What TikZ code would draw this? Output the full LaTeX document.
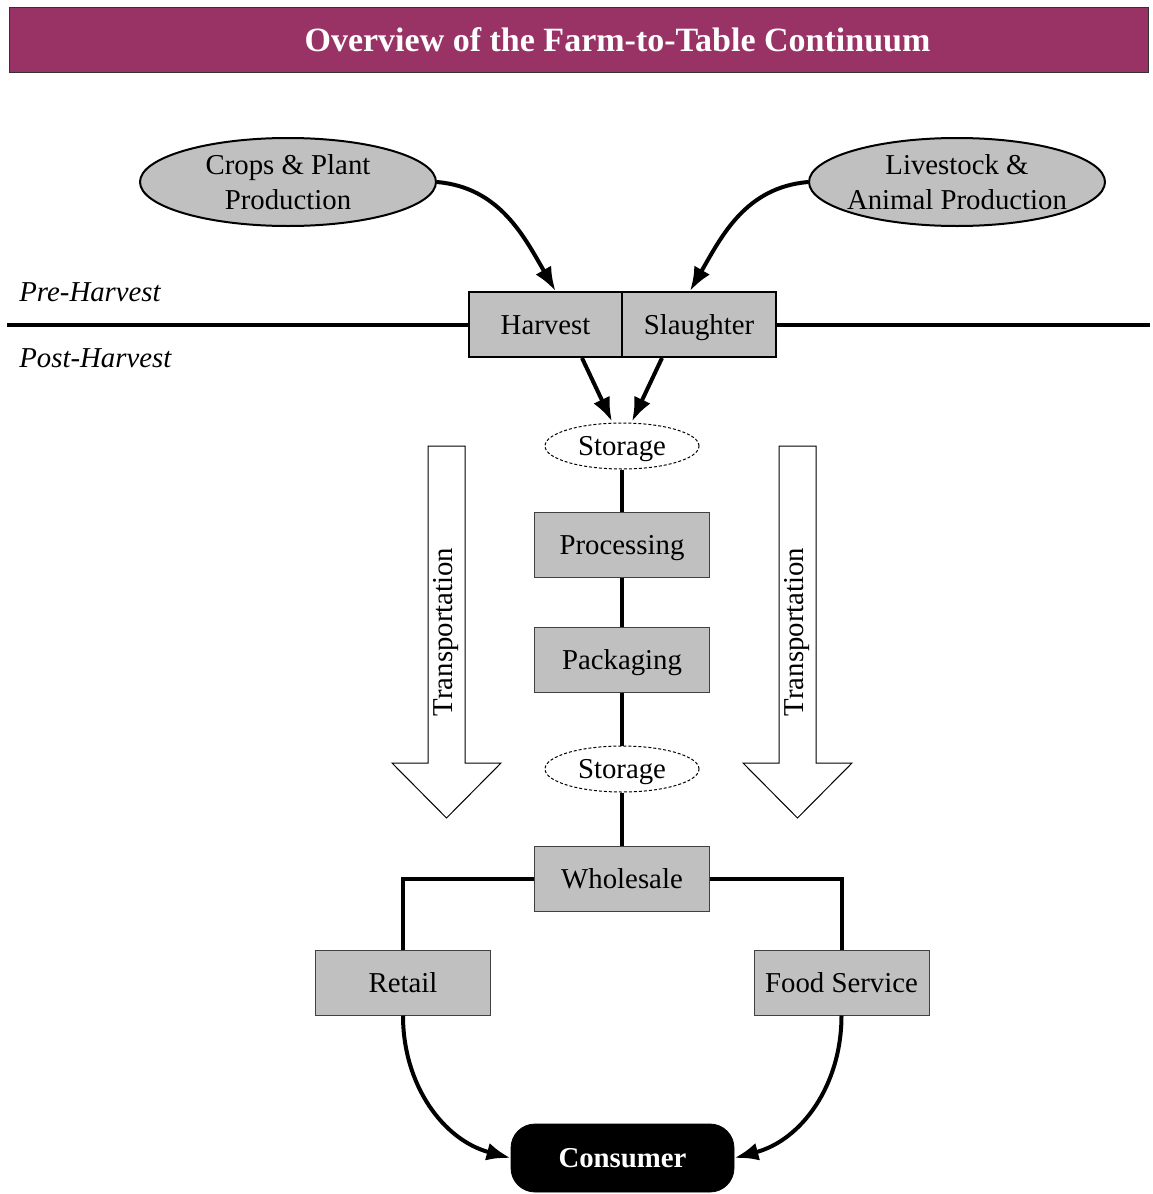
\documentclass[tikz,border=0pt]{standalone}
\usepackage{fontspec}
\setmainfont{Liberation Serif}
\usetikzlibrary{shapes.geometric,arrows.meta,calc}
\definecolor{titlefill}{RGB}{153,51,102}
\definecolor{boxgray}{RGB}{192,192,192}
\begin{document}
\begin{tikzpicture}[x=0.5pt,y=-0.5pt,
  every node/.style={font=\fontsize{14.4}{17.5}\selectfont, inner sep=0pt},
  titlebar/.style={draw=black!80, line width=0.5pt, fill=titlefill, minimum width=569.5pt, minimum height=32.5pt},
  titletext/.style={text=white, font=\fontsize{17}{20}\selectfont\bfseries},
  ell/.style={ellipse, draw, line width=1pt, fill=boxgray, minimum width=148pt, minimum height=44pt, align=center, inner xsep=-14pt},
  boxtext/.style={text height=11pt, text depth=1.5pt},
  hbox/.style={draw, line width=1pt, fill=boxgray, minimum height=32.5pt, boxtext},
  graybox/.style={draw=black!75, line width=0.5pt, fill=boxgray, minimum width=87.5pt, minimum height=32.5pt, boxtext},
  stor/.style={ellipse, draw, dash pattern=on 1.5pt off 1pt, line width=0.5pt, fill=white, minimum width=77pt, minimum height=23pt, boxtext, inner xsep=-6pt, inner ysep=-2pt},
  consumerbox/.style={draw, fill=black, text=white, rounded corners=12pt, minimum width=111.5pt, minimum height=34pt,
    font=\fontsize{14.4}{17.5}\selectfont\bfseries},
  phase/.style={anchor=west, font=\fontsize{14.4}{17.5}\selectfont\itshape},
  conn/.style={line width=2pt},
  arr/.style={conn, -{Latex[length=12pt,width=9pt]}},
  blockarrow/.style={draw, line width=0.5pt, fill=white},
  trans/.style={rotate=90}
]
\useasboundingbox (0,0) rectangle (1152,1194);

% title
\node[titlebar] (title) at (578.5,39.5) {};
\node[titletext] (titlelabel) at (617.5,39.5) {Overview of the Farm-to-Table Continuum};

% sources
\node[ell] (crops) at (288,182) {Crops \& Plant\\Production};
\node[ell] (live) at (957,182) {Livestock \&\\Animal Production};

% harvest line
\coordinate (hl) at (7,325);
\coordinate (hr) at (1150,325);
\draw[conn] (hl) -- (hr);
\node[hbox, minimum width=76.5pt] (harvest) at (545.5,324.5) {Harvest};
\node[hbox, minimum width=77pt] (slaughter) at (699,324.5) {Slaughter};
\node[phase] (pre) at (19,292) {Pre-Harvest};
\node[phase] (post) at (19,358) {Post-Harvest};

% transportation block arrows
\draw[blockarrow] (428,446) -- (465,446) -- (465,763) -- (501,763) -- (446.5,818) -- (392,763) -- (428,763) -- cycle;
\draw[blockarrow] (779,446) -- (816,446) -- (816,763) -- (852,763) -- (797.5,818) -- (743,763) -- (779,763) -- cycle;
\node[trans] (t1) at (446.5,632) {Transportation};
\node[trans] (t2) at (797.5,632) {Transportation};

% chain
\node[stor] (st1) at (622,446) {Storage};
\node[graybox] (proc) at (622,544.5) {Processing};
\node[graybox] (pack) at (622,659.5) {Packaging};
\node[stor] (st2) at (622,769) {Storage};
\node[graybox] (whole) at (622,878.5) {Wholesale};
\node[graybox] (retail) at (403,982.5) {Retail};
\node[graybox] (food) at (841.5,982.5) {Food Service};
\node[consumerbox] (cons) at (622.5,1158) {Consumer};

% connectors
\draw[arr] (crops.east) to[out=-5,in=120] ([xshift=5pt]harvest.north);
\draw[arr] (live.west) to[out=185,in=60] ([xshift=-4.5pt]slaughter.north);
\draw[arr] ([xshift=18.25pt]harvest.south) -- ([xshift=-5pt,yshift=0.5pt]st1.north);
\draw[arr] ([xshift=-18.5pt]slaughter.south) -- ([xshift=5pt,yshift=0.5pt]st1.north);
\draw[conn] (st1) -- (proc);
\draw[conn] (proc) -- (pack);
\draw[conn] (pack) -- (st2);
\draw[conn] (st2) -- (whole);
\draw[conn] (whole.west) -| (retail.north);
\draw[conn] (whole.east) -| (food.north);
\draw[arr] (retail.south) to[out=-90,in=165] (cons.west);
\draw[arr] (food.south) to[out=-90,in=15] (cons.east);
\end{tikzpicture}
\end{document}
